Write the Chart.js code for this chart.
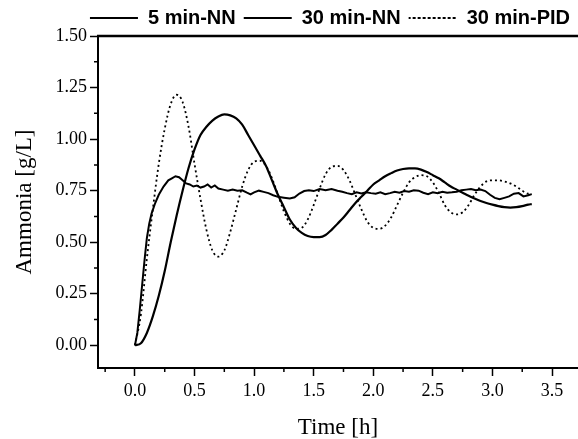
<!DOCTYPE html>
<html>
<head>
<meta charset="utf-8">
<script src="https://cdn.jsdelivr.net/npm/chart.js@4.4.1/dist/chart.umd.min.js"></script>
<style>
  html, body { margin: 0; padding: 0; background: #fff; }
</style>
</head>
<body>
<canvas id="chart" width="578" height="439"></canvas>
<script>
// data (time in h, ammonia in g/L)
const slowTime = [
  0.00, 0.05, 0.10, 0.15, 0.20, 0.25, 0.30, 0.35, 0.40, 0.45,
  0.50, 0.55, 0.60, 0.65, 0.70, 0.75, 0.80, 0.85, 0.90, 0.95,
  1.00, 1.05, 1.10, 1.15, 1.20, 1.25, 1.30, 1.35, 1.40, 1.45,
  1.50, 1.55, 1.60, 1.65, 1.70, 1.75, 1.80, 1.85, 1.90, 1.95,
  2.00, 2.05, 2.10, 2.15, 2.20, 2.25, 2.30, 2.35, 2.40, 2.45,
  2.50, 2.55, 2.60, 2.65, 2.70, 2.75, 2.80, 2.85, 2.90, 2.95,
  3.00, 3.05, 3.10, 3.15, 3.20, 3.25, 3.30, 3.33
];
const pid30Values = [
  0.00, 0.15, 0.42, 0.66, 0.88, 1.05, 1.17, 1.215, 1.18, 1.06,
  0.88, 0.71, 0.56, 0.46, 0.43, 0.46, 0.55, 0.66, 0.77, 0.85,
  0.89, 0.895, 0.87, 0.81, 0.73, 0.65, 0.59, 0.565, 0.57, 0.61,
  0.68, 0.76, 0.83, 0.865, 0.87, 0.85, 0.80, 0.73, 0.66, 0.60,
  0.57, 0.565, 0.58, 0.62, 0.68, 0.74, 0.79, 0.815, 0.825, 0.82,
  0.79, 0.74, 0.68, 0.645, 0.635, 0.645, 0.68, 0.73, 0.77, 0.795,
  0.80, 0.80, 0.795, 0.785, 0.77, 0.75, 0.735, 0.735
];
const nn30Values = [
  0.00, 0.01, 0.06, 0.14, 0.24, 0.36, 0.50, 0.63, 0.75, 0.86,
  0.95, 1.02, 1.06, 1.09, 1.11, 1.12, 1.115, 1.10, 1.07, 1.02,
  0.97, 0.92, 0.87, 0.80, 0.73, 0.67, 0.61, 0.57, 0.545, 0.53,
  0.525, 0.525, 0.535, 0.56, 0.59, 0.62, 0.655, 0.69, 0.72, 0.75,
  0.78, 0.80, 0.82, 0.835, 0.848, 0.855, 0.858, 0.858, 0.852, 0.84,
  0.825, 0.81, 0.79, 0.77, 0.755, 0.74, 0.725, 0.712, 0.70, 0.69,
  0.682, 0.675, 0.67, 0.668, 0.67, 0.675, 0.682, 0.685
];
const fastTime = [
  0.00, 0.02, 0.04, 0.06, 0.08, 0.10, 0.12, 0.14, 0.17, 0.20,
  0.24, 0.28, 0.31, 0.34, 0.37, 0.40, 0.43, 0.46, 0.49, 0.52,
  0.55, 0.58, 0.61, 0.64, 0.67, 0.70, 0.74, 0.78, 0.82, 0.86,
  0.90, 0.94, 0.97, 1.00, 1.04, 1.08, 1.12, 1.16, 1.20, 1.25,
  1.30, 1.34, 1.38, 1.42, 1.46, 1.50, 1.55, 1.60, 1.65, 1.70,
  1.74, 1.78, 1.82, 1.86, 1.90, 1.94, 1.98, 2.02, 2.06, 2.10,
  2.14, 2.18, 2.22, 2.26, 2.30, 2.34, 2.38, 2.42, 2.46, 2.50,
  2.54, 2.58, 2.62, 2.66, 2.70, 2.74, 2.78, 2.82, 2.86, 2.90,
  2.94, 2.98, 3.02, 3.06, 3.10, 3.14, 3.18, 3.22, 3.26, 3.30, 3.33
];
const nn5Values = [
  0.00, 0.06, 0.17, 0.29, 0.41, 0.52, 0.59, 0.64, 0.69, 0.73,
  0.77, 0.80, 0.81, 0.82, 0.815, 0.80, 0.785, 0.78, 0.77, 0.775,
  0.765, 0.77, 0.78, 0.765, 0.775, 0.76, 0.755, 0.75, 0.755, 0.75,
  0.752, 0.74, 0.732, 0.742, 0.75, 0.744, 0.738, 0.728, 0.72, 0.716,
  0.712, 0.718, 0.736, 0.748, 0.752, 0.748, 0.758, 0.752, 0.758, 0.75,
  0.745, 0.738, 0.733, 0.742, 0.736, 0.742, 0.738, 0.735, 0.742, 0.733,
  0.738, 0.745, 0.74, 0.748, 0.745, 0.752, 0.75, 0.74, 0.733, 0.742,
  0.738, 0.745, 0.74, 0.742, 0.745, 0.752, 0.755, 0.758, 0.752, 0.755,
  0.748, 0.73, 0.715, 0.708, 0.715, 0.722, 0.735, 0.738, 0.722, 0.728, 0.733
];

// axes
const xTicks = [0, 0.5, 1.0, 1.5, 2.0, 2.5, 3.0, 3.5];
const xTickLabels = ['0.0', '0.5', '1.0', '1.5', '2.0', '2.5', '3.0', '3.5'];
const xMinor = [-0.25, 0.25, 0.75, 1.25, 1.75, 2.25, 2.75, 3.25];
const yTicks = [0, 0.25, 0.5, 0.75, 1.0, 1.25, 1.5];
const yTickLabels = ['0.00', '0.25', '0.50', '0.75', '1.00', '1.25', '1.50'];
const yMinor = [0.125, 0.375, 0.625, 0.875, 1.125, 1.375];

const toPoints = (xs, ys) => xs.map((x, i) => ({x: x, y: ys[i]}));
const serif = '"Liberation Serif", "Times New Roman", serif';

// minor ticks + top frame line
const axisExtras = {
  id: 'axisExtras',
  afterDraw(chart) {
    const {ctx, chartArea: a, scales: {x, y}} = chart;
    ctx.save();
    ctx.strokeStyle = '#000';
    ctx.lineWidth = 1.5;
    ctx.beginPath();
    xMinor.forEach(v => {
      const px = x.getPixelForValue(v);
      ctx.moveTo(px, a.bottom);
      ctx.lineTo(px, a.bottom + 4);
    });
    yMinor.forEach(v => {
      const py = y.getPixelForValue(v);
      ctx.moveTo(a.left, py);
      ctx.lineTo(a.left - 4, py);
    });
    ctx.stroke();
    ctx.lineWidth = 2.5;
    ctx.beginPath();
    ctx.moveTo(a.left - 1, a.top);
    ctx.lineTo(a.right, a.top);
    ctx.stroke();
    ctx.restore();
  }
};

const chart = new Chart(document.getElementById('chart'), {
  type: 'line',
  data: {
    datasets: [{
      label: '5 min-NN',
      data: toPoints(fastTime, nn5Values),
      borderColor: '#000',
      backgroundColor: 'transparent',
      borderWidth: 2,
      tension: 0
    }, {
      label: '30 min-NN',
      data: toPoints(slowTime, nn30Values),
      borderColor: '#000',
      backgroundColor: 'transparent',
      borderWidth: 2.2,
      cubicInterpolationMode: 'monotone'
    }, {
      label: '30 min-PID',
      data: toPoints(slowTime, pid30Values),
      borderColor: '#000',
      backgroundColor: 'transparent',
      borderWidth: 1.8,
      borderDash: [2, 3],
      cubicInterpolationMode: 'monotone'
    }]
  },
  options: {
    responsive: false,
    animation: false,
    elements: {point: {radius: 0}},
    layout: {padding: {top: 0, right: 0, bottom: 0, left: 0}},
    plugins: {
      tooltip: {enabled: false},
      legend: {
        position: 'top',
        align: 'end',
        maxHeight: 36,
        labels: {
          color: '#000',
          font: {family: '"Liberation Sans", Arial, sans-serif', size: 20, weight: 'bold'},
          boxWidth: 48,
          boxHeight: 0,
          padding: 8
        }
      }
    },
    scales: {
      x: {
        type: 'linear',
        min: -0.31,
        max: 3.718,
        afterFit: s => { s.height = 71; },
        afterBuildTicks: s => { s.ticks = xTicks.map(v => ({value: v})); },
        border: {display: true, color: '#000', width: 2},
        grid: {drawOnChartArea: false, drawTicks: true, tickLength: 8, tickColor: '#000', tickWidth: 1.5},
        ticks: {
          color: '#000',
          padding: 4,
          maxRotation: 0,
          font: {family: serif, size: 18},
          callback: v => xTickLabels[xTicks.indexOf(v)]
        },
        title: {
          display: true,
          text: 'Time [h]',
          color: '#000',
          font: {family: serif, size: 23, lineHeight: 1},
          padding: {top: 0, bottom: 0}
        }
      },
      y: {
        type: 'linear',
        min: -0.11,
        max: 1.5,
        afterFit: s => { s.width = 98; },
        afterBuildTicks: s => { s.ticks = yTicks.map(v => ({value: v})); },
        border: {display: true, color: '#000', width: 2},
        grid: {drawOnChartArea: false, drawTicks: true, tickLength: 8, tickColor: '#000', tickWidth: 1.5},
        ticks: {
          color: '#000',
          padding: 3,
          font: {family: serif, size: 18},
          callback: v => yTickLabels[yTicks.indexOf(v)]
        },
        title: {
          display: true,
          text: 'Ammonia [g/L]',
          color: '#000',
          font: {family: serif, size: 23, lineHeight: 1.2},
          padding: {top: 11, bottom: 0}
        }
      }
    }
  },
  plugins: [axisExtras]
});
</script>
</body>
</html>
